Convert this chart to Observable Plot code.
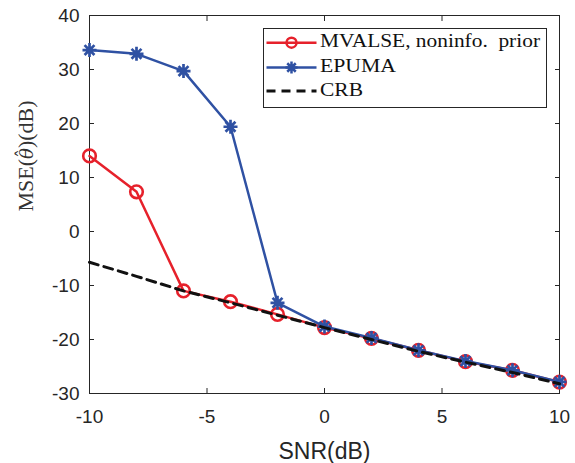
<!DOCTYPE html>
<html><head><meta charset="utf-8">
<script src="https://cdn.jsdelivr.net/npm/d3@7"></script>
<script src="https://cdn.jsdelivr.net/npm/@observablehq/plot@0.6"></script>
<style>body{margin:0;background:#fff}</style>
</head><body><div id="chart"></div>
<script>
const snr = [-10, -8, -6, -4, -2, 0, 2, 4, 6, 8, 10];
const mvalse = [14.0, 7.35, -11.0, -13.0, -15.35, -17.8, -19.8, -22.0, -24.1, -25.7, -27.9];
const epuma = [33.6, 32.9, 29.7, 19.4, -13.2, -17.6, -19.7, -22.0, -24.0, -25.7, -27.85];
const crb = [-5.7, -8.3, -11.0, -13.2, -15.5, -17.8, -20.0, -22.2, -24.2, -26.1, -28.2];
const xTicks = [-10, -5, 0, 5, 10];
const yTicks = [-30, -20, -10, 0, 10, 20, 30, 40];
const seriesNames = ["MVALSE, noninfo.  prior", "EPUMA", "CRB"];
const xLabel = "SNR(dB)";
const yLabel = "MSE(θ̂)(dB)";

const rows = snr.map((s, i) => ({snr: s, mvalse: mvalse[i], epuma: epuma[i], crb: crb[i]}));
const red = "#e6212b", blue = "#2f51a3", axisColor = "#262626";
const fmt = d => String(d);

const asterisk = {
  draw(ctx, size) {
    const r = Math.sqrt(size / Math.PI);
    const d = r * Math.SQRT1_2;
    ctx.moveTo(-r, 0); ctx.lineTo(r, 0);
    ctx.moveTo(0, -r); ctx.lineTo(0, r);
    ctx.moveTo(-d, -d); ctx.lineTo(d, d);
    ctx.moveTo(-d, d); ctx.lineTo(d, -d);
  }
};

const plot = Plot.plot({
  width: 575, height: 463,
  marginLeft: 89, marginRight: 16, marginTop: 15, marginBottom: 70,
  style: {fontFamily: "'Liberation Sans', Arial, sans-serif", fontSize: "19px", color: axisColor, background: "#fff"},
  x: {domain: [-10, 10]},
  y: {domain: [-30, 40]},
  marks: [
    Plot.axisX(xTicks, {anchor: "bottom", tickSize: -5, tickPadding: 21, tickFormat: fmt, label: null, stroke: axisColor}),
    Plot.axisX(xTicks, {anchor: "top", tickSize: -5, tickFormat: () => "", label: null, stroke: axisColor}),
    Plot.axisY(yTicks, {anchor: "left", tickSize: -5, tickPadding: 15, tickFormat: fmt, label: null, stroke: axisColor}),
    Plot.axisY(yTicks, {anchor: "right", tickSize: -5, tickFormat: () => "", label: null, stroke: axisColor}),
    Plot.frame({stroke: axisColor, strokeWidth: 1}),
    Plot.line(rows, {x: "snr", y: "mvalse", stroke: red, strokeWidth: 2.5}),
    Plot.dot(rows, {x: "snr", y: "mvalse", stroke: red, strokeWidth: 2.6, r: 6.3, fill: "none"}),
    Plot.line(rows, {x: "snr", y: "epuma", stroke: blue, strokeWidth: 2.5}),
    Plot.dot(rows, {x: "snr", y: "epuma", stroke: blue, strokeWidth: 2.7, r: 7, symbol: asterisk}),
    Plot.line(rows, {x: "snr", y: "crb", stroke: "#111", strokeWidth: 3, strokeDasharray: "9,6"}),
    Plot.text([xLabel], {text: d => d, frameAnchor: "bottom", dy: 65, fontSize: 23, fill: axisColor}),
    Plot.text([yLabel], {text: d => d, frameAnchor: "left", rotate: -90, dx: -57, dy: 7, lineAnchor: "bottom",
      fontSize: 22, fontFamily: "'Liberation Serif', 'Times New Roman', serif", fill: "#333"})
  ]
});
document.getElementById("chart").appendChild(plot);

const svg = d3.select(plot);
// y label styling: italic theta with a hat
svg.selectAll("text").each(function() {
  if (this.textContent === yLabel) {
    const t = d3.select(this);
    t.text(null);
    t.append("tspan").text("MSE(");
    t.append("tspan").attr("font-style", "italic").attr("font-family", "'DejaVu Serif', serif").attr("font-size", 18).text("θ");
    t.append("tspan").attr("font-family", "'DejaVu Serif', serif").attr("font-size", 18)
      .attr("dx", -10).attr("dy", -3).text("ˆ");
    t.append("tspan").attr("dx", 1).attr("dy", 3).text(")(dB)");
  }
});

// legend
const lg = svg.append("g").attr("font-family", "'Liberation Serif', 'Times New Roman', serif")
  .attr("font-size", 18.5).attr("text-anchor", "start");
lg.append("rect").attr("x", 263.5).attr("y", 28.5).attr("width", 283).attr("height", 79)
  .attr("fill", "#fff").attr("stroke", axisColor).attr("stroke-width", 1);
const items = [
  {name: seriesNames[0], color: red, kind: "circle", y: 42.7, w: 220},
  {name: seriesNames[1], color: blue, kind: "star", y: 67.5, w: 76},
  {name: seriesNames[2], color: "#111", kind: "dash", y: 91, w: 43}
];
items.forEach(it => {
  const g = lg.append("g");
  g.append("line").attr("x1", 266.5).attr("x2", 316.5).attr("y1", it.y).attr("y2", it.y)
    .attr("stroke", it.color).attr("stroke-width", it.kind === "dash" ? 3 : 2.5)
    .attr("stroke-dasharray", it.kind === "dash" ? "9,6" : null);
  if (it.kind === "circle") {
    g.append("circle").attr("cx", 291.5).attr("cy", it.y).attr("r", 5).attr("fill", "none")
      .attr("stroke", it.color).attr("stroke-width", 2.5);
  } else if (it.kind === "star") {
    const p = d3.path(); asterisk.draw(p, Math.PI * 36);
    g.append("path").attr("transform", `translate(291.5,${it.y})`).attr("d", p.toString())
      .attr("stroke", it.color).attr("stroke-width", 2.5).attr("fill", "none");
  }
  g.append("text").attr("x", 320).attr("y", it.y + 4.5).attr("fill", "#111")
    .attr("textLength", it.w).attr("lengthAdjust", "spacingAndGlyphs").text(it.name);
});
</script>
</body></html>
